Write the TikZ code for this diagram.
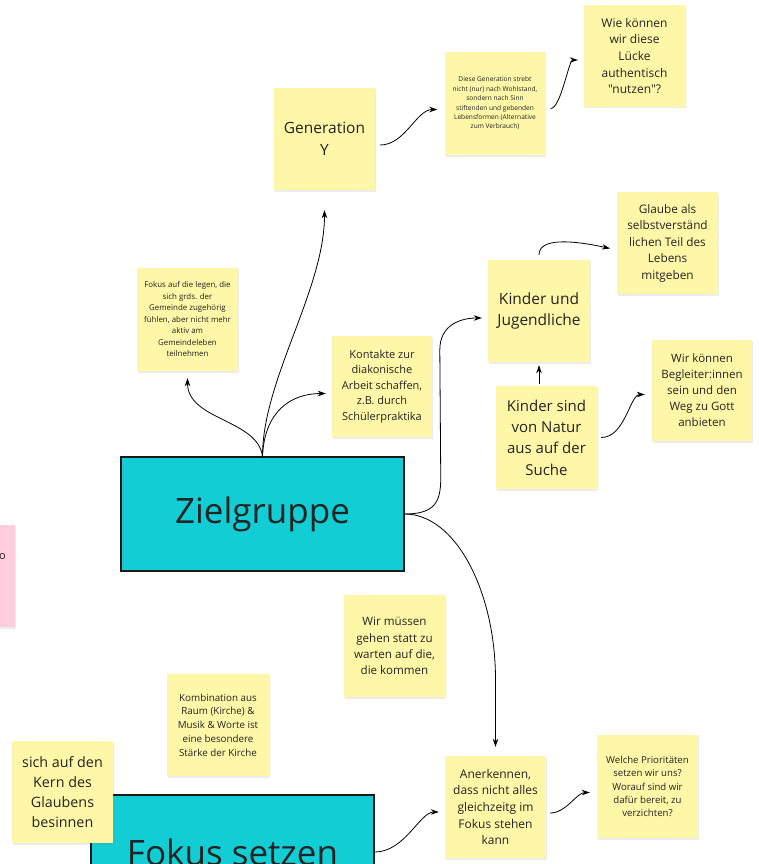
\documentclass[tikz,border=0pt]{standalone}
\usepackage{fontspec}
\setmainfont{Open Sans}[Ligatures=TeXOff]
\usetikzlibrary{shapes,arrows.meta,positioning,shadows}

\definecolor{stickyyellow}{RGB}{255,247,168}
\definecolor{topicteal}{RGB}{18,205,212}
\definecolor{stickypink}{RGB}{255,205,222}
\definecolor{inkgray}{RGB}{35,35,35}

\begin{document}
\begin{tikzpicture}[
    x=1pt, y=-1pt,
    sticky/.style={rectangle, fill=stickyyellow, minimum width=101pt, minimum height=102pt, inner sep=0pt, align=center, text=inkgray,
        drop shadow={shadow xshift=0.8pt, shadow yshift=-1.5pt, opacity=0.15}},
    topic/.style={rectangle, draw=black!90, line width=1.5pt, fill=topicteal, minimum width=283pt, minimum height=114pt, inner sep=0pt,
        font=\fontsize{35}{40}\selectfont, text=inkgray},
    arrow/.style={->, >={Stealth[length=8pt, width=5.5pt]}, line width=0.8pt}
]
\useasboundingbox (0,0) rectangle (758,864);

% Zielgruppe
\node[topic] (ziel) at (262.5,514) {Zielgruppe};

% Generation Y
\node[sticky, font=\fontsize{15.5}{21.5}\selectfont] (geny) at (324.5,139) {Generation\\Y};
\node[sticky, minimum height=103pt, font=\fontsize{6.6}{9.4}\selectfont] (wohlstand) at (495,103.5) {Diese Generation strebt\\nicht (nur) nach Wohlstand,\\sondern nach Sinn\\stiftenden und gebenden\\Lebensformen (Alternative\\zum Verbrauch)};
\node[sticky, font=\fontsize{12}{16.7}\selectfont] (luecke) at (634.5,56) {Wie können\\wir diese\\Lücke\\authentisch\\"nutzen"?};

% Kinder und Jugendliche
\node[sticky, minimum width=102pt, font=\fontsize{15.5}{21.5}\selectfont] (kinder) at (539,311) {Kinder und\\Jugendliche};
\node[sticky, font=\fontsize{11.8}{16.5}\selectfont] (glaube) at (667.5,243) {Glaube als\\selbstverständ\\lichen Teil des\\Lebens\\mitgeben};
\node[sticky, minimum height=103pt, font=\fontsize{15}{21.3}\selectfont] (natur) at (546.5,437.5) {Kinder sind\\von Natur\\aus auf der\\Suche};
\node[sticky, minimum width=100pt, minimum height=101pt, font=\fontsize{11.5}{16}\selectfont] (begleiter) at (702,390.5) {Wir können\\Begleiter:innen\\sein und den\\Weg zu Gott\\anbieten};

% Notes around Zielgruppe
\node[sticky, minimum width=100pt, minimum height=101pt, font=\fontsize{11}{15.5}\selectfont] (kontakte) at (382,386.5) {Kontakte zur\\diakonische\\Arbeit schaffen,\\z.B. durch\\Schülerpraktika};
\node[sticky, minimum height=103pt, font=\fontsize{7.9}{11.5}\selectfont] (gemeinde) at (187.5,319.5) {Fokus auf die legen, die\\sich grds. der\\Gemeinde zugehörig\\fühlen, aber nicht mehr\\aktiv am\\Gemeindeleben\\teilnehmen};
\node[sticky, font=\fontsize{11.6}{16.3}\selectfont] (gehen) at (394.5,646) {Wir müssen\\gehen statt zu\\warten auf die,\\die kommen};

% Pink note at the left edge
\node[sticky, fill=stickypink, anchor=north east] (rand) at (15,525) {};
\node[anchor=east, inner sep=0pt, text=inkgray, font=\fontsize{11}{14}\selectfont] (randtext) at (6,557) {o};

% Fokus setzen
\node[topic] (fokus) at (232.5,852) {Fokus setzen};
\node[sticky, minimum width=102pt, font=\fontsize{9.8}{13.8}\selectfont] (kombi) at (218,725) {Kombination aus\\Raum (Kirche) \&\\Musik \& Worte ist\\eine besondere\\Stärke der Kirche};
\node[sticky, font=\fontsize{14.3}{20}\selectfont] (kern) at (62.5,792) {sich auf den\\Kern des\\Glaubens\\besinnen};
\node[sticky, font=\fontsize{12}{16.7}\selectfont] (anerkennen) at (495.5,807) {Anerkennen,\\dass nicht alles\\gleichzeitg im\\Fokus stehen\\kann};
\node[sticky, minimum height=103pt, font=\fontsize{9.6}{13.4}\selectfont] (prio) at (647.5,786.5) {Welche Prioritäten\\setzen wir uns?\\Worauf sind wir\\dafür bereit, zu\\verzichten?};

% Arrows
\draw[arrow, shorten >=20pt] (ziel.north) .. controls +(0,-77) and +(0,100) .. (geny.south);
\draw[arrow, shorten >=7pt] (ziel.north) .. controls +(-5,-37) and +(0,49) .. (gemeinde.south);
\draw[arrow, shorten >=6pt] (ziel.north) .. controls +(2,-45) and +(-41,0) .. ([yshift=-7pt]kontakte.west);
\draw[arrow, shorten >=6pt] (ziel.east) .. controls +(30,0) and +(0,24) .. ([xshift=36pt, yshift=36pt]ziel.east)
    -- ([xshift=-48pt, yshift=-39pt]kinder.west) .. controls +(0,-26) and +(-26,0) .. ([yshift=-7pt]kinder.west);
\draw[arrow, shorten >=9pt] (ziel.east) .. controls +(50,0) and +(0,-90) .. ([yshift=76pt]anerkennen.north) -- (anerkennen.north);
\draw[arrow, shorten <=2pt, shorten >=3pt] (kinder.south |- natur.north) -- (kinder.south);
\draw[arrow, shorten >=7pt] ([yshift=5pt]kinder.north) .. controls +(0,-17) and +(-45,-10) .. ([yshift=-7pt]glaube.west);
\draw[arrow, shorten <=4pt, shorten >=7pt] (natur.east) .. controls +(28,0) and +(-22,0) .. ([yshift=-4pt]begleiter.west);
\draw[arrow, shorten <=5pt, shorten >=7pt] ([yshift=-6pt]geny.east) .. controls +(30,0) and +(-28,0) .. ([yshift=-6pt]wohlstand.west);
\draw[arrow, shorten <=5pt, shorten >=6pt] ([yshift=-5pt]wohlstand.east) .. controls +(15,0) and +(-15,0) .. ([yshift=-4pt]luecke.west);
\draw[arrow, shorten <=4pt, shorten >=7pt] ([yshift=-6pt]anerkennen.east) .. controls +(20,0) and +(-20,0) .. ([yshift=-6pt]prio.west);
\draw[arrow, shorten >=6pt] (fokus.east) .. controls +(30,0) and +(-25,0) .. ([yshift=-5pt]anerkennen.west);

\end{tikzpicture}
\end{document}
